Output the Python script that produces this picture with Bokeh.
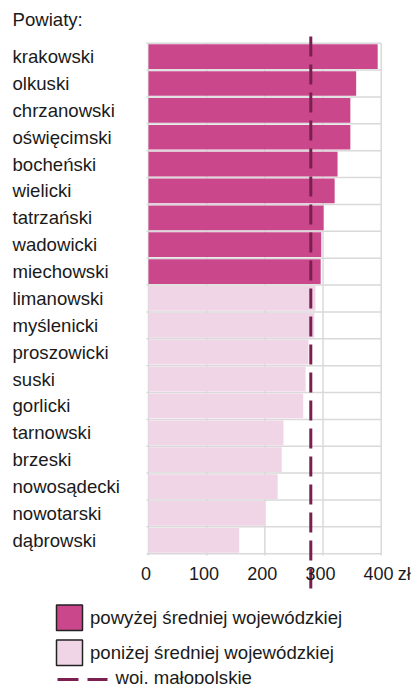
from bokeh.plotting import figure
from bokeh.models import Range1d, ColumnDataSource
from bokeh.core.properties import value
from bokeh.embed import file_html
from bokeh.resources import INLINE

# ---------------- data ----------------
categories = ["krakowski", "olkuski", "chrzanowski", "oświęcimski", "bocheński",
              "wielicki", "tatrzański", "wadowicki", "miechowski", "limanowski",
              "myślenicki", "proszowicki", "suski", "gorlicki", "tarnowski",
              "brzeski", "nowosądecki", "nowotarski", "dąbrowski"]
values = [394, 357, 347, 347, 325, 320, 301, 297, 296, 287,
          285, 275, 270, 266, 232, 229, 222, 201, 156]
groups = ["powyżej"] * 9 + ["poniżej"] * 10
average = 279
tick_values = [0, 100, 200, 300, 400]
tick_labels = ["0", "100", "200", "300", "400"]
unit_label = "zł"
title_text = "Powiaty:"
legend_labels = ["powyżej średniej wojewódzkiej", "poniżej średniej wojewódzkiej", "woj. małopolskie"]

# ---------------- styles ----------------
C_ABOVE = "#c9478a"
C_BELOW = "#f0d5e7"
C_AVG = "#7a1f50"
C_GRID = "#d9d9d9"
C_TEXT = "#1a1a1a"
FONT = value("Liberation Sans")
FS = "18.6px"
FS_TICK = "18px"

W, H = 416, 684
X0 = 148.0          # canvas px of value 0
SX = 0.5817         # px per unit
GY0 = 42.7          # canvas px of grid top
ROW = 26.87         # px per row


def fx(px):
    return (px - X0) / SX


def fy(py):
    return (py - GY0) / ROW


p = figure(width=W, height=H, output_backend="svg", toolbar_location=None,
           x_range=Range1d(-X0 / SX, (W - X0) / SX),
           y_range=Range1d((H - GY0) / ROW, -GY0 / ROW),
           x_axis_location=None, y_axis_location=None, min_border=0)
p.grid.visible = False
p.outline_line_color = None
p.background_fill_color = "white"

n = len(categories)
centers = [i + 0.5 for i in range(n)]

# grid lines
bounds = list(range(n + 1))
p.segment(x0=[fx(146)] * len(bounds), x1=[tick_values[-1]] * len(bounds),
          y0=bounds, y1=bounds, line_color=C_GRID, line_width=1.5)
p.segment(x0=tick_values, x1=tick_values, y0=[0] * len(tick_values),
          y1=[n + 0.07] * len(tick_values), line_color=C_GRID, line_width=1.5)

# bars
colors = [C_ABOVE if g == "powyżej" else C_BELOW for g in groups]
src = ColumnDataSource(dict(y=centers, v=values, c=colors, cat=categories))
p.hbar(y="y", left=0, right="v", height=0.92, fill_color="c", line_color=None, source=src)

# average line
p.line(x=[average, average], y=[fy(36), fy(588)], line_color=C_AVG, line_width=3,
       line_dash="20 8")

# category labels
p.text(x=fx(12), y="y", text="cat", source=src, text_font=FONT, text_font_size=FS,
       text_color=C_TEXT, text_align="left", text_baseline="middle")
p.text(x=[fx(12)], y=[fy(19)], text=[title_text], text_font=FONT, text_font_size=FS,
       text_color=C_TEXT, text_align="left", text_baseline="middle")

# tick labels
p.text(x=tick_values, y=[fy(573)] * len(tick_values), text=tick_labels, x_offset=-2.6,
       text_font=FONT, text_font_size=FS_TICK, text_color=C_TEXT, text_align="center",
       text_baseline="middle")
p.text(x=[tick_values[-1]], y=[fy(573)], text=[unit_label], x_offset=16.6, text_font=FONT,
       text_font_size=FS_TICK, text_color=C_TEXT, text_align="left", text_baseline="middle")

# legend
p.quad(left=[fx(56), fx(56)], right=[fx(82), fx(82)], top=[fy(604.5), fy(639.5)],
       bottom=[fy(630), fy(665)], fill_color=[C_ABOVE, C_BELOW], line_color="#222222",
       line_width=1.5)
p.line(x=[fx(57), fx(107)], y=[fy(679), fy(679)], line_color=C_AVG, line_width=3,
       line_dash="21 9")
p.text(x=[fx(89.5), fx(89.5), fx(115)], y=[fy(617), fy(652), fy(677)], text=legend_labels,
       text_font=FONT, text_font_size=FS, text_color=C_TEXT, text_align="left",
       text_baseline="middle")

open("out.html", "w").write(file_html(p, INLINE))
